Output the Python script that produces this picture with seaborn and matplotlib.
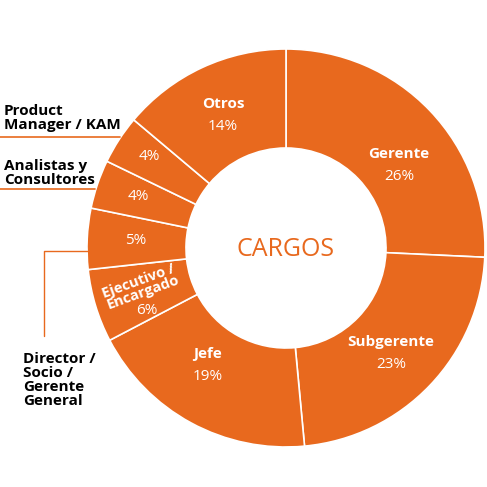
import matplotlib
matplotlib.use("Agg")
import matplotlib.pyplot as plt
import seaborn as sns

# Cargos (clockwise from 12 o'clock)
cargos = ["Gerente", "Subgerente", "Jefe", "Ejecutivo /\nEncargado",
          "Director /\nSocio /\nGerente\nGeneral", "Analistas y\nConsultores",
          "Product\nManager / KAM", "Otros"]
porcentajes = [26, 23, 19, 6, 5, 4, 4, 14]

naranja = "#E8691E"

sns.set_theme(style="white")
plt.rcParams["font.family"] = ["Open Sans", "DejaVu Sans"]

fig = plt.figure(figsize=(4.87, 4.87), dpi=100)
ax = fig.add_axes([0, 0, 1, 1])

H = 487
cx, cy = 286, H - 248
R = 199

ax.pie(porcentajes, colors=[naranja] * len(porcentajes), startangle=90,
       counterclock=False, center=(cx, cy), radius=R,
       wedgeprops=dict(width=99, edgecolor="white", linewidth=1.2))

# pie resets limits, so set pixel-like coords afterwards
ax.set_xlim(0, 487)
ax.set_ylim(0, 487)
ax.set_aspect("equal")
ax.axis("off")

ax.text(cx, H - 249, "CARGOS", color=naranja, fontsize=18, ha="center", va="center")

# labels inside the ring (image coords)
def etiqueta(x, y, nombre, pct):
    if nombre:
        ax.text(x, H - y, nombre, color="white", fontsize=11, fontweight="bold",
                ha="center", va="center")
        ax.text(x, H - y - 22, pct, color="white", fontsize=11, ha="center", va="center")
    else:
        ax.text(x, H - y, pct, color="white", fontsize=11, ha="center", va="center")

etiqueta(399, 154, cargos[0], f"{porcentajes[0]}%")
etiqueta(391, 342, cargos[1], f"{porcentajes[1]}%")
etiqueta(208, 354, cargos[2], f"{porcentajes[2]}%")
ax.text(141, H - 287, cargos[3], color="white", fontsize=10.5, fontweight="bold",
        ha="center", va="center", rotation=20, linespacing=0.85)
ax.text(147, H - 310, f"{porcentajes[3]}%", color="white", fontsize=11, ha="center", va="center")
etiqueta(136, 240, None, f"{porcentajes[4]}%")
etiqueta(138, 197, None, f"{porcentajes[5]}%")
etiqueta(149, 156, None, f"{porcentajes[6]}%")
etiqueta(223, 104, cargos[7], f"{porcentajes[7]}%")

# outside labels
ax.text(4, H - 118, cargos[6], color="black", fontsize=11, fontweight="bold",
        ha="left", va="center", linespacing=0.95)
ax.plot([0, 120], [H - 137, H - 137], color=naranja, lw=1.2)

ax.text(4, H - 173, cargos[5], color="black", fontsize=11, fontweight="bold",
        ha="left", va="center", linespacing=0.95)
ax.plot([0, 95], [H - 189, H - 189], color=naranja, lw=1.2)

ax.text(23, H - 380, cargos[4], color="black", fontsize=11,
        fontweight="bold", ha="left", va="center", linespacing=0.98)
ax.plot([88, 44, 44], [H - 251, H - 251, H - 336], color=naranja, lw=1)

fig.savefig("out.png", dpi=100)
